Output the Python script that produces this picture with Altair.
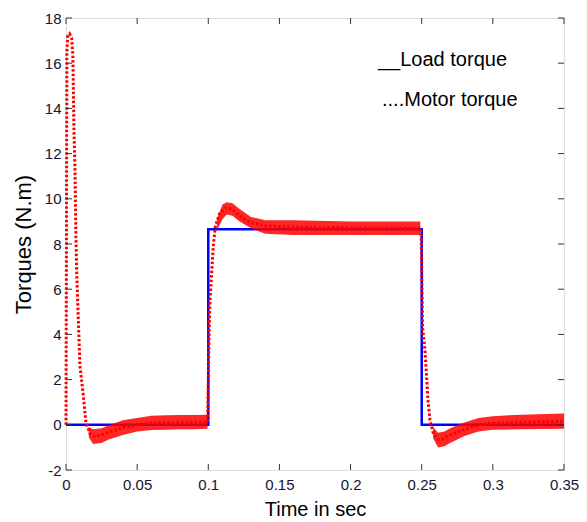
import altair as alt
import pandas as pd

# ---- data ----
load_t = [0.0, 0.1, 0.1, 0.25, 0.25, 0.35]
load_v = [0.0, 0.0, 8.65, 8.65, 0.0, 0.0]

motor_t = [0.0, 0.0003, 0.0006, 0.0012, 0.0025, 0.004, 0.0048, 0.0056, 0.0063,
           0.0070, 0.0076, 0.0084, 0.0098, 0.0120, 0.0140, 0.0170, 0.0200, 0.0250,
           0.0300, 0.0400, 0.0500, 0.0600, 0.0700, 0.0800, 0.0900, 0.0995, 0.1000,
           0.1006, 0.1012, 0.1035, 0.1050, 0.1080, 0.1120, 0.1160, 0.1200, 0.1250,
           0.1300, 0.1400, 0.1600, 0.2000, 0.2400, 0.2495, 0.2500, 0.2506, 0.2523,
           0.2544, 0.2558, 0.2580, 0.2615, 0.2650, 0.2700, 0.2800, 0.2900, 0.3000,
           0.3200, 0.3500]
motor_v = [0.0, 8.0, 16.5, 17.2, 17.3, 17.1, 16.4, 13.0, 11.3,
           8.2, 6.6, 5.1, 2.6, 1.4, 0.1, -0.4, -0.5, -0.45,
           -0.32, -0.12, 0.0, 0.09, 0.1, 0.11, 0.12, 0.13, 2.0,
           4.2, 5.5, 7.9, 8.8, 9.35, 9.6, 9.55, 9.35, 9.1,
           8.95, 8.8, 8.75, 8.72, 8.7, 8.7, 7.0, 4.3, 3.3,
           1.1, 0.2, -0.35, -0.65, -0.62, -0.45, -0.2, 0.0, 0.08,
           0.12, 0.16]

# noise envelope of the motor torque (segment, time, lower, upper)
band_seg = [1] * 11 + [2] * 10 + [3] * 9
band_t = [0.016, 0.019, 0.025, 0.03, 0.04, 0.05, 0.06, 0.07, 0.08, 0.09, 0.0995,
          0.106, 0.110, 0.113, 0.117, 0.122, 0.13, 0.14, 0.16, 0.2, 0.249,
          0.258, 0.2615, 0.266, 0.27, 0.28, 0.29, 0.3, 0.32, 0.35]
band_lo = [-0.55, -0.85, -0.8, -0.65, -0.45, -0.3, -0.23, -0.22, -0.2, -0.2, -0.18,
           8.6, 9.1, 9.3, 9.25, 9.0, 8.7, 8.45, 8.4, 8.4, 8.4,
           -0.6, -1.0, -0.95, -0.8, -0.5, -0.3, -0.22, -0.2, -0.18]
band_hi = [-0.1, -0.2, -0.15, -0.02, 0.2, 0.3, 0.4, 0.42, 0.43, 0.43, 0.45,
           9.1, 9.75, 9.85, 9.8, 9.55, 9.2, 9.05, 9.05, 9.0, 9.0,
           -0.1, -0.35, -0.3, -0.15, 0.1, 0.3, 0.38, 0.45, 0.5]

x_ticks = [0, 0.05, 0.1, 0.15, 0.2, 0.25, 0.3, 0.35]
y_ticks = [-2, 0, 2, 4, 6, 8, 10, 12, 14, 16, 18]

legend_labels = ["__Load torque", "....Motor torque"]

# ---- tables ----
load_df = pd.DataFrame({"t": load_t, "v": load_v, "o": range(len(load_t))})
motor_df = pd.DataFrame({"t": motor_t, "v": motor_v, "o": range(len(motor_t))})
band_df = pd.DataFrame({"seg": band_seg, "t": band_t, "lo": band_lo, "hi": band_hi})

XD = [0, 0.35]
YD = [-2, 18]
xs = alt.Scale(domain=XD, nice=False, zero=False)
ys = alt.Scale(domain=YD, nice=False, zero=False)

LABEL_COLOR = "#141430"
FONT = "Liberation Sans"

x_axis = alt.Axis(values=x_ticks, labelExpr="'' + datum.value", title="Time in sec",
                  grid=False, ticks=False, domain=False, labelFontSize=15,
                  labelColor=LABEL_COLOR, labelFont=FONT, labelPadding=7,
                  titleFontSize=20, titleFont=FONT, titleFontWeight="normal",
                  titleColor="#000000", titlePadding=7, labelFlush=False)
y_axis = alt.Axis(values=y_ticks, labelExpr="'' + datum.value", title="Torques (N.m)",
                  grid=False, ticks=False, domain=False, labelFontSize=15,
                  labelColor=LABEL_COLOR, labelFont=FONT, labelPadding=5,
                  titleFontSize=22, titleFont=FONT, titleFontWeight="normal",
                  titleColor="#000000", titlePadding=9, labelFlush=False)

base_x = alt.X("t:Q", scale=xs, axis=x_axis)
base_y = alt.Y("v:Q", scale=ys, axis=y_axis)

load = alt.Chart(load_df).mark_line(color="#0000ff", strokeWidth=2.5).encode(
    x=base_x, y=base_y, order="o:Q")

band = alt.Chart(band_df).mark_area(color="#ff0000", opacity=0.85).encode(
    x=alt.X("t:Q", scale=xs), y=alt.Y("lo:Q", scale=ys), y2="hi:Q", detail="seg:N")

motor = alt.Chart(motor_df).mark_line(color="#ff0000", strokeWidth=3,
                                      strokeDash=[2.5, 2]).encode(
    x=alt.X("t:Q", scale=xs), y=alt.Y("v:Q", scale=ys), order="o:Q")

# inward tick marks (MATLAB style box)
xt = pd.DataFrame({"t": x_ticks})
yt = pd.DataFrame({"v": y_ticks})
tick_col = "#333333"
xt_bot = alt.Chart(xt).mark_rule(color=tick_col, strokeWidth=1).encode(
    x=alt.X("t:Q", scale=xs), y=alt.value(452), y2=alt.value(446))
xt_top = alt.Chart(xt).mark_rule(color=tick_col, strokeWidth=1).encode(
    x=alt.X("t:Q", scale=xs), y=alt.value(0), y2=alt.value(6))
yt_left = alt.Chart(yt).mark_rule(color=tick_col, strokeWidth=1).encode(
    y=alt.Y("v:Q", scale=ys), x=alt.value(0), x2=alt.value(6))
yt_right = alt.Chart(yt).mark_rule(color=tick_col, strokeWidth=1).encode(
    y=alt.Y("v:Q", scale=ys), x=alt.value(498), x2=alt.value(492))

leg_df = pd.DataFrame({"label": legend_labels, "row": [0, 1]})
leg1 = alt.Chart(leg_df.iloc[[0]]).mark_text(
    align="left", baseline="alphabetic", fontSize=20, font=FONT, color="#000000").encode(
    text="label:N", x=alt.value(312), y=alt.value(48))
leg2 = alt.Chart(leg_df.iloc[[1]]).mark_text(
    align="left", baseline="alphabetic", fontSize=20, font=FONT, color="#000000").encode(
    text="label:N", x=alt.value(316), y=alt.value(88))

chart = alt.layer(load, band, motor, xt_bot, xt_top, yt_left, yt_right, leg1, leg2).properties(
    width=498, height=452,
    autosize=alt.AutoSizeParams(type="none"),
    padding={"left": 66, "top": 18, "right": 23, "bottom": 52},
).configure_view(stroke="#222222", strokeWidth=1).configure(background="white")

chart.save("out.html", embed_options={"renderer": "svg", "actions": False})
